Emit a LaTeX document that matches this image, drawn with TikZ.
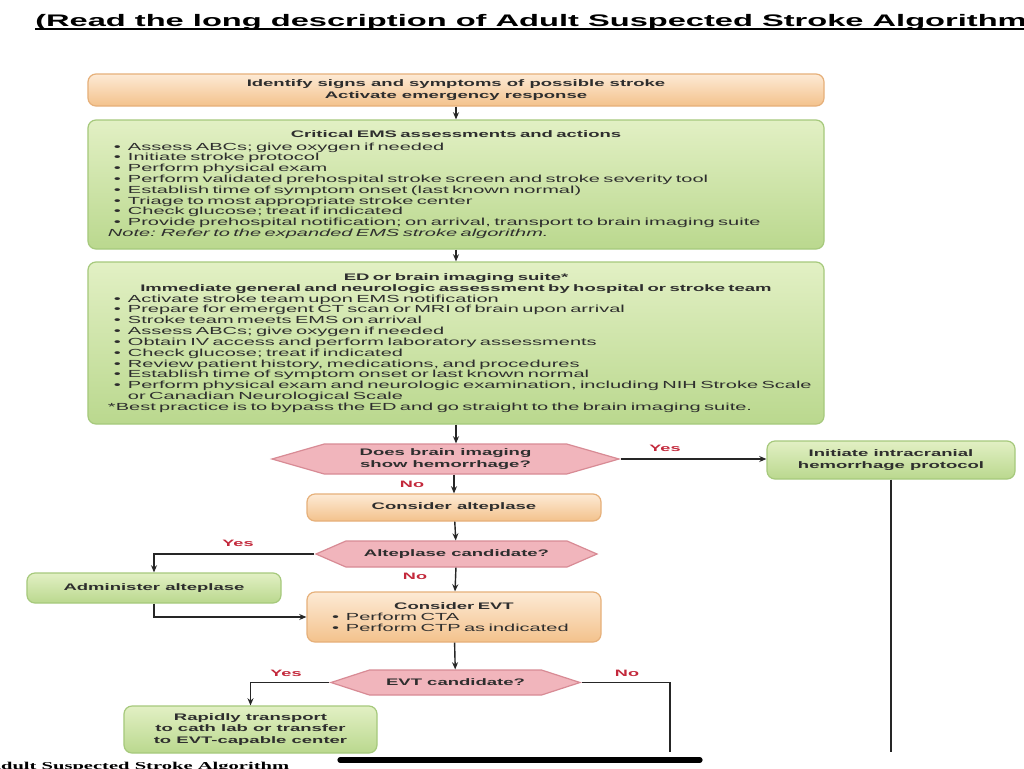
\documentclass[tikz,border=0pt]{standalone}
\usepackage{fontspec}
\setmainfont[FakeStretch=1.95]{Liberation Sans}
\newfontfamily\capfont[FakeStretch=1.95]{Liberation Serif}
\usetikzlibrary{shapes.symbols, arrows.meta, positioning}
\definecolor{inkgray}{HTML}{2E2E2E}
\definecolor{peachtop}{HTML}{FDEAD5}
\definecolor{peachbot}{HTML}{F3C28C}
\definecolor{peachline}{HTML}{E6B07A}
\definecolor{leaftop}{HTML}{E2F0C4}
\definecolor{leafbot}{HTML}{BAD88E}
\definecolor{leafline}{HTML}{A6C97C}
\definecolor{rosefill}{HTML}{F1B5BC}
\definecolor{roseline}{HTML}{D88B95}
\definecolor{labelred}{HTML}{C3283B}
\setlength{\parindent}{0pt}
\newcommand{\itm}{\par\hangindent=5mm\hspace*{1.5mm}\makebox[3.5mm][l]{\textbullet}}
\newcommand{\boldline}[1]{\centerline{\bfseries\fontsize{6.75}{8.3}\selectfont #1}}

\begin{document}
\begin{tikzpicture}[x=0.25mm, y=-0.25mm,
  base/.style={rectangle, rounded corners=2mm, line width=0.3mm, text=inkgray, align=center,
               font=\fontsize{6.75}{8.3}\selectfont\bfseries, inner sep=0pt},
  peach/.style={base, draw=peachline, top color=peachtop, bottom color=peachbot},
  leaf/.style={base, draw=leafline, top color=leaftop, bottom color=leafbot},
  listbox/.style={text width=174mm, inner xsep=5mm, align=left,
                  font=\fontsize{7.3}{7.7}\selectfont},
  decide/.style={signal, signal to=east and west, draw=roseline, fill=rosefill, line width=0.3mm,
                 text=inkgray, align=center, font=\fontsize{6.75}{8.3}\selectfont\bfseries, inner sep=0pt},
  answer/.style={text=labelred, font=\fontsize{6.6}{7.5}\selectfont\bfseries, inner sep=0pt},
  arrow/.style={-{Stealth[length=1.8mm, width=1.5mm]}, line width=0.35mm, black!85},
  wire/.style={line width=0.35mm, black!85},
]
  \fill[white] (0,0) rectangle (1024,768);
  \useasboundingbox (0,0) rectangle (1024,768);

  \node[anchor=base west, inner sep=0, font=\fontsize{11.9}{14}\selectfont\bfseries] (heading) at (35,26)
    {(Read the long description of Adult Suspected Stroke Algorithm};
  \draw[line width=0.45mm] ([yshift=-0.75mm]heading.base west) -- ([yshift=-0.75mm]heading.base east);

  \node[peach, minimum width=184mm, minimum height=8mm] (spot) at (456,90)
    {Identify signs and symptoms of possible stroke\\Activate emergency response};

  \node[leaf, listbox, minimum height=32.25mm] (ems) at (456,184.5) {%
    \boldline{Critical EMS assessments and actions}\vspace*{1.5pt}
    \itm Assess ABCs; give oxygen if needed
    \itm Initiate stroke protocol
    \itm Perform physical exam
    \itm Perform validated prehospital stroke screen and stroke severity tool
    \itm Establish time of symptom onset (last known normal)
    \itm Triage to most appropriate stroke center
    \itm Check glucose; treat if indicated
    \itm Provide prehospital notification; on arrival, transport to brain imaging suite
    \par\textit{Note: Refer to the expanded EMS stroke algorithm.}};

  \node[leaf, listbox, minimum height=40.5mm] (ed) at (456,343) {%
    \boldline{ED or brain imaging suite*}
    \boldline{Immediate general and neurologic assessment by hospital or stroke team}
    \itm Activate stroke team upon EMS notification
    \itm Prepare for emergent CT scan or MRI of brain upon arrival
    \itm Stroke team meets EMS on arrival
    \itm Assess ABCs; give oxygen if needed
    \itm Obtain IV access and perform laboratory assessments
    \itm Check glucose; treat if indicated
    \itm Review patient history, medications, and procedures
    \itm Establish time of symptom onset or last known normal
    \itm \mbox{Perform physical exam and neurologic examination, including NIH Stroke Scale}\newline
         or Canadian Neurological Scale
    \par *Best practice is to bypass the ED and go straight to the brain imaging suite.};

  \node[decide, minimum width=86.75mm, minimum height=7.5mm, signal pointer angle=32] (bleed) at (445.5,459)
    {Does brain imaging\\show hemorrhage?};
  \node[leaf, minimum width=62mm, minimum height=9.5mm] (ich) at (891,460)
    {Initiate intracranial\\hemorrhage protocol};
  \node[peach, minimum width=73.5mm, minimum height=6.75mm] (alte) at (454,507.5) {Consider alteplase};
  \node[decide, minimum width=70.25mm, minimum height=6.5mm, signal pointer angle=47] (cand) at (456.5,554)
    {Alteplase candidate?};
  \node[leaf, minimum width=63.5mm, minimum height=7.5mm] (admin) at (154,588) {Administer alteplase};
  \node[peach, listbox, text width=64mm, inner xsep=4.75mm, minimum height=12.5mm] (evt) at (454,617) {%
    \boldline{Consider EVT}
    \itm Perform CTA
    \itm Perform CTP as indicated};
  \node[decide, minimum width=62.25mm, minimum height=6.25mm, signal pointer angle=36] (evtq) at (455.5,682.5)
    {EVT candidate?};
  \node[leaf, minimum width=63.25mm, minimum height=11.75mm] (cath) at (250.5,729.5)
    {Rapidly transport\\to cath lab or transfer\\to EVT-capable center};

  \coordinate (ichend) at (891,752);
  \coordinate (noend) at (670,752);

  \draw[arrow] (spot) -- (ems);
  \draw[arrow] (ems) -- (ed);
  \draw[arrow] (ed.south) -- (ed.south |- bleed.north);
  \draw[arrow] (bleed.east) -- (bleed.east -| ich.west);
  \draw[wire] (ich) -- (ichend);
  \draw[arrow] (alte.north |- bleed.south) -- (alte);
  \draw[arrow] (alte) -- (cand);
  \draw[arrow] (cand.west) -| (admin.north);
  \draw[arrow] (cand) -- (evt);
  \draw[arrow] (admin.south) |- (evt.west);
  \draw[arrow] (evt) -- (evtq);
  \draw[arrow] (evtq.west) -| (cath.north);
  \draw[wire] (evtq.east) -| (noend);

  \node[answer] (yes1) at (665,448) {Yes};
  \node[answer] (no1) at (412,484) {No};
  \node[answer] (yes2) at (238,543) {Yes};
  \node[answer] (no2) at (415,576) {No};
  \node[answer] (yes3) at (286,673) {Yes};
  \node[answer] (no3) at (627,673) {No};

  \draw[line width=1.3mm, line cap=round] (340,760) -- (700,760);
  \node[anchor=base west, inner sep=0, font=\capfont\fontsize{7.5}{9}\selectfont\bfseries] (foot) at (-14,769)
    {Adult Suspected Stroke Algorithm};
\end{tikzpicture}
\end{document}
